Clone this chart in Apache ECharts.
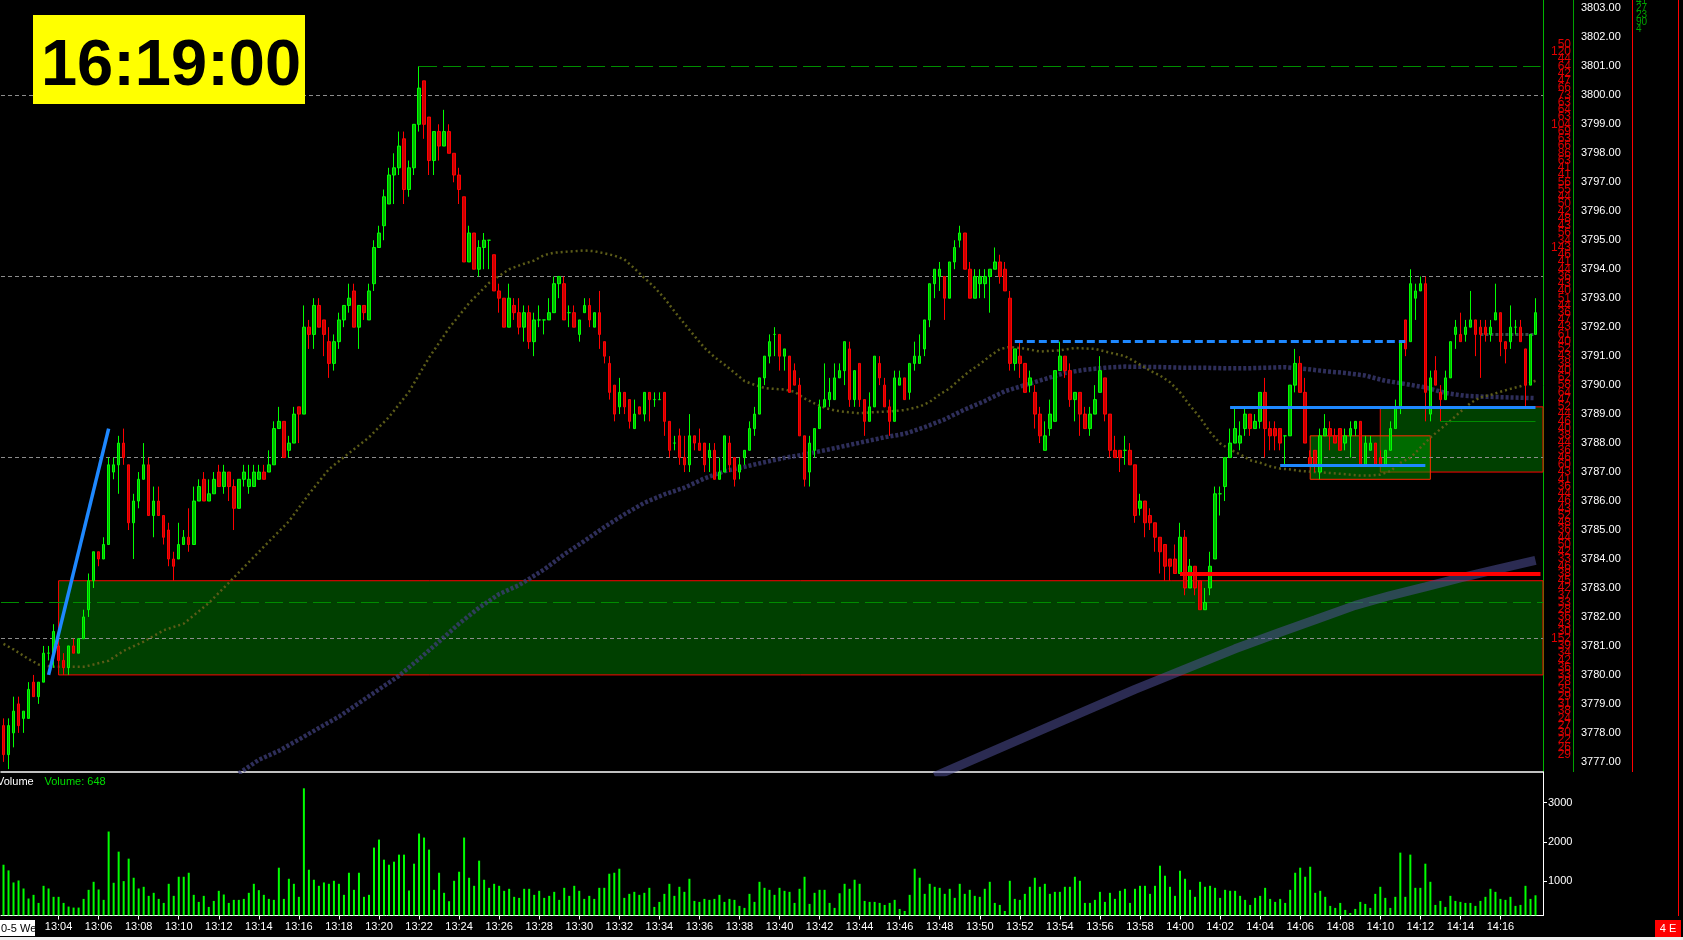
<!DOCTYPE html>
<html>
<head>
<meta charset="utf-8">
<script src="https://cdn.jsdelivr.net/npm/echarts@6.0.0/dist/echarts.min.js"></script>
<style>
html,body{margin:0;padding:0;background:#f0f0f0;}
#c{width:1683px;height:937px;background:#000;}
</style>
</head>
<body>
<div id="c"></div>
<script>
// ---------------- DATA ----------------
const firstBarTime = '13:01:15';
const barSeconds = 15;
const slotCount = 308;            // 307 bars + one empty slot at the right
const clockText = '16:19:00';
const dateStub = '0-5 We';
const cornerTag = '4 E';
const lastPrice = 3792.5;
const lastVolume = 648;
const timeLabelFirst = 11, timeLabelStep = 8, timeLabelLast = 299;
const priceTicks = [3777,3778,3779,3780,3781,3782,3783,3784,3785,3786,3787,3788,3789,3790,3791,3792,3793,3794,3795,3796,3797,3798,3799,3800,3801,3802,3803];
const volumeTicks = [1000,2000,3000];
const topRightNumbers = ['41','27','23','90','4'];

// [open, high, low, close] per 15-second bar
const ohlc = [
[3778.25,3778.5,3777,3777.25],[3777.25,3778.5,3776.75,3778.25],[3778,3779.25,3777.5,3778.75],[3779,3779.25,3778,3778.25],
[3778.5,3778.75,3778,3778.75],[3778.5,3779.75,3778.5,3779.5],[3779.75,3780,3779.25,3779.25],[3779.25,3779.75,3779,3779.75],
[3779.75,3781,3779.75,3780.75],[3780.75,3781,3780.5,3780.75],[3780.75,3781.75,3780.25,3781.5],[3781,3781.25,3780.25,3780.5],
[3780.5,3780.75,3780,3780.25],[3780.25,3781,3780,3781],[3781,3781.25,3780.75,3780.75],[3780.75,3781.25,3780.75,3781.25],
[3781.25,3782.25,3781.25,3782],[3782.25,3783.5,3782,3783.25],[3783.25,3784.25,3783,3784.25],[3784.25,3784.25,3783.75,3784],
[3784,3784.75,3784,3784.5],[3784.5,3787.5,3784.5,3787.25],[3787,3787.5,3786.75,3787.25],[3787.25,3788.25,3786.25,3788],
[3788,3788.5,3787.25,3787.5],[3787.25,3787.25,3785,3785.25],[3785.25,3786.25,3784,3786],[3786,3787,3785.75,3786.75],
[3786.75,3788,3786.75,3787.25],[3787.25,3787.5,3785.5,3785.5],[3785.5,3786.5,3784.75,3786],[3786,3786.5,3785.5,3785.5],
[3785.5,3785.5,3784.5,3784.75],[3785,3785.25,3783.75,3784],[3784,3784.25,3783.25,3783.75],[3784,3785.25,3784,3784.5],
[3784.5,3785,3784.5,3784.75],[3784.75,3785.75,3784.25,3784.5],[3784.5,3786.5,3784.5,3786],[3786,3786.75,3786,3786.5],
[3786.75,3787,3786,3786],[3786,3786.75,3786,3786.25],[3786.25,3787,3786.25,3786.75],[3787,3787.25,3786.5,3786.5],
[3786.5,3787.25,3786.25,3787],[3787,3787,3786,3786.5],[3786.5,3786.75,3785,3785.75],[3785.75,3786.75,3785.75,3786.75],
[3786.75,3787.25,3786.5,3787],[3786.5,3787.25,3786.25,3786.75],[3786.5,3787.25,3786.5,3787],[3786.75,3787.25,3786.75,3787],
[3787,3787.25,3786.75,3786.75],[3787,3787.75,3787,3787.25],[3787.25,3788.75,3787.25,3788.5],[3788.5,3789.25,3788.5,3788.75],
[3788.75,3788.75,3787.5,3787.5],[3787.75,3788.25,3787.5,3788],[3788,3789.25,3788,3789],[3789.25,3789.25,3788,3789],
[3789,3792.75,3789,3792],[3792,3792.25,3791.25,3791.75],[3791.75,3793,3791.25,3792.75],[3792.75,3793,3792,3792],
[3792.25,3792.25,3791,3791.75],[3791.5,3792,3790.25,3790.75],[3790.75,3791.75,3790.5,3791.5],[3791.5,3792.5,3791.25,3792.25],
[3792.25,3792.75,3792,3792.75],[3792.75,3793.5,3792.5,3793],[3793.25,3793.5,3792,3792],[3792,3792.75,3791.25,3792.75],
[3792.75,3792.75,3792.25,3792.5],[3792.25,3793.5,3792.25,3793.25],[3793.5,3795,3793.25,3794.75],[3794.75,3795.5,3794.75,3795.25],
[3795.5,3796.75,3795,3796.5],[3796.25,3797.5,3796.25,3797.25],[3797.25,3798,3796.25,3797.5],[3797.5,3798.75,3797.25,3798.25],
[3798.5,3798.75,3796.25,3796.75],[3796.75,3797.75,3796.5,3797.5],[3797.5,3799,3797.25,3799],[3799,3801,3798.75,3800.25],
[3800.5,3800.5,3798.5,3799],[3799.25,3799.25,3797.25,3797.75],[3797.75,3798.75,3797.25,3798.75],[3798.75,3799,3797.75,3798.25],
[3798.25,3799.5,3798.25,3798.75],[3798.75,3799,3798,3798],[3798,3798,3797,3797.25],[3797.25,3797.5,3796.25,3796.75],
[3796.5,3796.5,3794.25,3794.25],[3794.25,3795.5,3794.25,3795.25],[3795.25,3795.25,3794,3794],[3794,3795,3793.75,3794.75],
[3794.75,3795.25,3794,3795],[3795,3795,3794,3795],[3794.5,3794.5,3793.25,3793.25],[3793.25,3793.5,3792.5,3793],
[3793,3793,3792,3792],[3792,3793.5,3792,3793],[3792.75,3793,3792.25,3792.5],[3792.5,3793,3791.75,3792],
[3792,3792.75,3791.5,3792.5],[3792.5,3792.75,3791.25,3791.5],[3791.5,3792.5,3791,3792.25],[3792.25,3792.75,3792,3792.25],
[3792.25,3792.25,3791.75,3792.25],[3792.25,3793,3792.25,3792.5],[3792.5,3793.75,3792.5,3793.5],[3793.5,3793.75,3793,3793.75],
[3793.5,3793.75,3792.25,3792.25],[3792.5,3792.75,3792,3792.5],[3792.5,3792.75,3792,3792],[3791.75,3792.25,3791.5,3792.25],
[3792.5,3793,3792.5,3792.75],[3792.75,3793,3792,3792.25],[3792,3792.5,3792,3792.5],[3792.5,3793.25,3791.25,3791.75],
[3791.5,3791.5,3790.75,3791],[3790.75,3791,3789.5,3789.75],[3790,3790,3788.75,3789],[3789.25,3790.25,3789,3789.75],
[3789.75,3789.75,3789,3789.25],[3789.5,3789.5,3788.5,3788.75],[3788.5,3789.5,3788.5,3789],[3789.25,3789.25,3789,3789],
[3789,3789.75,3788.75,3789.75],[3789.75,3789.75,3788.75,3789.5],[3789.5,3789.75,3789.25,3789.5],[3789.5,3789.75,3789.5,3789.5],
[3789.75,3789.75,3788.25,3788.75],[3788.75,3788.75,3787.5,3787.75],[3788,3788.25,3787.75,3788],[3788.25,3788.5,3787.25,3787.5],
[3787.5,3788.25,3787,3787.25],[3787.25,3789,3787,3788.25],[3788.25,3788.25,3787.75,3788],[3788,3788.5,3787.75,3787.75],
[3788,3788,3787,3787.25],[3787.5,3788,3787,3787.75],[3787.75,3788,3786.75,3786.75],[3786.75,3787.5,3786.75,3787],
[3787,3788.25,3787,3788.25],[3788,3788.25,3787,3787.25],[3787.5,3787.5,3786.5,3786.75],[3787,3787.5,3786.75,3787.25],
[3787.5,3787.75,3787.25,3787.75],[3787.75,3788.75,3787.75,3788.5],[3788.5,3789.25,3788.25,3789],[3789,3790.25,3789,3790.25],
[3790.25,3791,3790,3791],[3791,3791.75,3790.75,3791.5],[3791.75,3792,3791,3791.75],[3791.75,3791.75,3790.5,3791],
[3791,3791.25,3790.5,3791.25],[3791,3791,3789.75,3789.75],[3790.5,3790.75,3790,3790],[3790,3790.25,3788.25,3788.25],
[3788.25,3788.25,3786.5,3786.75],[3787,3788.25,3786.5,3788],[3787.75,3788.5,3787.5,3788.5],[3788.5,3789.5,3788.5,3789.25],
[3789.25,3790.75,3789.25,3789.5],[3789.5,3790.25,3789.25,3789.75],[3789.5,3790.75,3789.5,3790.25],[3790.25,3790.75,3790.25,3790.5],
[3790.5,3791.5,3790,3791.5],[3791.25,3791.5,3789.25,3789.5],[3789.5,3790.5,3789.25,3790.5],[3790.75,3790.75,3789.25,3789.5],
[3789.5,3789.5,3788.25,3788.75],[3788.75,3789.75,3788.75,3789.25],[3789.25,3791,3789.25,3791],[3790.75,3791,3790,3790.25],
[3790,3790.25,3789.25,3789.25],[3789.25,3789.5,3788.25,3788.75],[3788.75,3790.5,3788.75,3790.25],[3790,3790.5,3790,3790.25],
[3790.25,3790.25,3789.5,3789.5],[3789.75,3790.75,3789.5,3790.75],[3790.75,3791.5,3790.5,3791],[3790.75,3791.75,3790.75,3791],
[3791.25,3792.25,3791,3792.25],[3792.25,3793.5,3792,3793.5],[3793.5,3794,3793,3794],[3793.75,3794.25,3793.25,3794],
[3793.75,3793.75,3792.25,3793],[3793,3794.25,3793,3794.25],[3794.25,3795,3794,3794.75],[3795,3795.5,3794.75,3795.25],
[3795.25,3795.25,3794,3794],[3794,3794.25,3793,3793],[3793,3794,3793,3793.75],[3793.5,3794,3793,3793.75],
[3793.5,3794,3793,3793.75],[3793.75,3794,3792.5,3794],[3794,3794.75,3794,3794.25],[3794.25,3794.5,3793.5,3793.75],
[3794,3794.25,3793.25,3793.25],[3793,3793.25,3790.5,3790.75],[3790.75,3791.25,3790.5,3791.25],[3791,3791.5,3790.25,3790.75],
[3790.75,3790.75,3789.75,3789.75],[3790,3790.5,3789.75,3790.25],[3789.75,3790,3788.5,3789],[3789,3789.25,3788,3788.25],
[3787.75,3788.75,3787.75,3788.25],[3788.5,3789.5,3788.25,3789],[3788.75,3790.5,3788.75,3790.5],[3790.5,3791.5,3790.5,3791],
[3791,3791,3790.25,3790.5],[3790.5,3790.75,3789.25,3789.5],[3789.5,3789.75,3788.75,3789.75],[3789.75,3789.75,3788.25,3789],
[3789,3789.25,3788.5,3788.5],[3788.5,3789.25,3788.25,3789],[3789,3790,3789,3789.5],[3789.75,3791,3789.75,3790.5],
[3790.25,3790.25,3788.75,3789],[3789,3789,3787.5,3787.75],[3787.75,3788.25,3787.5,3787.5],[3787.75,3787.75,3787,3787.5],
[3787.75,3788.25,3787.25,3787.75],[3787.75,3788,3787.25,3787.25],[3787.25,3787.25,3785.25,3785.5],[3785.75,3786.25,3785.5,3786],
[3786,3786,3784.75,3785.25],[3785.5,3785.75,3785,3785.25],[3785.25,3785.25,3784.25,3784.75],[3784.75,3784.75,3783.5,3784.25],
[3784.5,3784.5,3783.25,3783.75],[3784,3784,3783.25,3783.75],[3784,3784.5,3783.5,3783.5],[3783.5,3785.25,3783.5,3784.75],
[3784.75,3785,3782.75,3783],[3783,3784,3783,3783.75],[3783.75,3783.75,3782.75,3783],[3783.25,3783.25,3782.25,3782.25],
[3782.25,3783,3782.25,3782.5],[3783,3784.25,3782.75,3783.75],[3784,3786.5,3784,3786.25],[3786.25,3786.5,3785.5,3786.25],
[3786.5,3787.5,3786,3787.5],[3787.5,3788.5,3787.5,3788],[3788,3789.25,3788,3788.5],[3788,3788.75,3787.75,3788.25],
[3788.5,3789.25,3788.25,3789],[3789,3789,3788.25,3788.5],[3788.5,3789,3788.5,3788.75],[3788.75,3789.75,3788.5,3789.75],
[3789.75,3790.25,3787.5,3788.5],[3788.5,3788.75,3787.75,3788.25],[3788.5,3788.75,3787.75,3788.25],[3788.5,3788.5,3787.75,3788],
[3788.25,3788.25,3787.25,3788.25],[3788.25,3790,3788.25,3790],[3790,3791.25,3789.75,3790.75],[3790.75,3791,3789.75,3789.75],
[3789.75,3790.25,3788,3788],[3787.5,3787.75,3787.25,3787.25],[3787.75,3787.75,3787,3787.25],[3787,3788.5,3786.75,3788.25],
[3788.25,3789,3788.25,3788.5],[3788.5,3788.75,3787.75,3788.25],[3788.25,3788.5,3788,3788],[3788.5,3788.5,3787.75,3787.75],
[3788,3788.5,3787.75,3788.25],[3788.25,3788.75,3787.5,3788.5],[3788.5,3788.75,3788.25,3788.75],[3788.75,3788.75,3787.25,3787.25],
[3787.25,3788.25,3787.25,3788],[3787.75,3788.25,3787.75,3788],[3788,3788,3787.25,3787.25],[3787.5,3787.75,3787.25,3787.25],
[3787.25,3787.75,3787.25,3787.75],[3787.75,3788.75,3787.75,3788.5],[3788.5,3789.5,3788.5,3789.25],[3789.25,3791.5,3789,3791.5],
[3792.25,3792.25,3791,3791.25],[3791.5,3794,3791.5,3793.5],[3793,3793.5,3792.25,3793.25],[3793.25,3793.75,3793.25,3793.5],
[3793.5,3793.75,3788.75,3789.75],[3789,3790.5,3788.75,3790.25],[3790.5,3791,3790,3790],[3789.75,3790,3788.75,3789.5],
[3789.5,3790.5,3789.5,3790.25],[3790.25,3791.5,3790.25,3791.5],[3791.75,3792.25,3791.25,3792],[3791.75,3792.5,3791.5,3791.5],
[3791.75,3792.25,3791.5,3792],[3792,3793.25,3792,3792.25],[3792.25,3792.25,3791,3791.75],[3792,3792.25,3790.25,3791.75],
[3792,3792.25,3791.5,3791.75],[3791.75,3792.25,3791.5,3792],[3792.25,3793.5,3792.25,3792.5],[3792.5,3792.5,3791,3791.5],
[3791.5,3791.5,3790.75,3791.25],[3791.5,3792.75,3791.25,3792],[3792,3792.25,3791.75,3792],[3792,3792.25,3791.5,3791.5],
[3791.25,3791.25,3789.25,3790],[3790,3791.75,3790,3791.75],[3791.75,3793,3791.75,3792.5]
];

const volumes = [
1425,1281,974,1025,821,566,660,455,889,821,
609,609,455,362,336,336,557,787,991,796,
532,2268,966,1757,1008,1579,1094,821,864,634,
711,557,455,940,634,1119,1119,1221,660,481,
634,353,506,762,668,455,532,532,557,711,
940,779,660,557,532,1349,557,1068,940,609,
3366,1298,1043,889,974,940,1017,940,660,1221,
787,1221,609,660,1860,2064,1553,1425,1502,1681,
1681,770,1451,2217,2115,1809,787,1221,711,498,
1017,1247,2115,1094,889,1528,1043,838,940,889,
762,813,609,583,813,813,660,762,583,634,
736,532,838,634,889,762,557,634,557,838,
838,1196,1221,1323,583,685,736,660,711,838,
353,481,685,940,634,864,736,1068,506,481,
557,532,557,660,481,557,532,379,328,685,
481,991,838,787,660,838,762,736,455,813,
1119,430,711,787,787,455,328,700,
940,813,1043,940,506,481,481,455,404,455,
532,302,251,660,1323,1094,685,940,864,838,
685,813,583,940,685,787,634,609,813,991,
455,404,251,1017,557,532,685,864,1094,864,
940,685,736,736,864,864,1119,1017,455,455,
532,736,481,711,557,762,813,455,813,889,
889,685,889,1400,1145,864,634,1272,1068,787,
609,991,864,889,838,583,787,762,762,634,
532,404,583,634,838,557,481,557,455,787,
1221,1349,1119,1374,711,762,609,379,328,455,
277,200,302,481,430,328,685,864,583,328,
609,1732,609,1681,838,838,1451,991,404,506,
353,634,506,481,455,455,379,506,609,813,
736,557,532,609,379,404,889,557,648
];

// moving-average style overlays: [bar index, price]
const maSlow = [[0,3781.07],[2,3780.88],[5,3780.55],[7,3780.36],[10,3780.28],[16,3780.28],[18,3780.36],[21,3780.49],[24,3780.83],[28,3781.15],[32,3781.54],[36,3781.77],[41,3782.48],[45,3783.18],[49,3783.89],[53,3784.6],[57,3785.3],[61,3786.24],[65,3787.1],[69,3787.65],[73,3788.2],[77,3788.9],[81,3789.77],[85,3790.95],[89,3791.97],[93,3792.83],[97,3793.53],[101,3794.0],[104,3794.19],[106,3794.3],[108,3794.49],[110,3794.57],[112,3794.6],[114,3794.62],[116,3794.65],[118,3794.62],[120,3794.55],[122,3794.47],[124,3794.34],[126,3794.03],[128,3793.7],[130,3793.38],[132,3793.0],[134,3792.55],[136,3792.12],[138,3791.7],[140,3791.29],[142,3790.97],[144,3790.71],[146,3790.43],[148,3790.14],[150,3790.01],[152,3789.9],[154,3789.87],[156,3789.85],[158,3789.77],[160,3789.54],[162,3789.37],[164,3789.22],[166,3789.13],[168,3789.08],[171,3789.03],[174,3789.07],[177,3789.09],[180,3789.14],[183,3789.26],[185,3789.42],[187,3789.68],[189,3789.89],[191,3790.2],[193,3790.49],[195,3790.72],[197,3791.0],[199,3791.24],[201,3791.32],[204,3791.26],[207,3791.16],[211,3791.2],[214,3791.28],[218,3791.25],[221,3791.12],[224,3791.0],[226,3790.81],[229,3790.5],[231,3790.33],[233,3790.1],[235,3789.75],[237,3789.29],[239,3788.88],[241,3788.38],[243,3787.99],[245,3787.78],[247,3787.61],[249,3787.41],[251,3787.32],[253,3787.2],[255,3787.12],[257,3787.09],[259,3787.04],[263,3786.99],[267,3786.94],[271,3786.88],[273,3786.88],[275,3786.91],[277,3787.03],[279,3787.32],[281,3787.49],[283,3787.84],[285,3788.19],[287,3788.48],[289,3788.77],[291,3789.08],[293,3789.38],[295,3789.58],[297,3789.66],[299,3789.77],[301,3789.87],[303,3789.96],[306,3790.15]];
const maMid = [[47,3776.6],[51,3777.07],[55,3777.38],[59,3777.77],[63,3778.17],[67,3778.56],[71,3779.03],[75,3779.5],[79,3779.97],[83,3780.55],[87,3781.15],[91,3781.77],[95,3782.32],[99,3782.79],[103,3783.1],[108,3783.64],[112,3784.16],[116,3784.62],[120,3785.1],[124,3785.54],[128,3785.94],[132,3786.23],[136,3786.46],[140,3786.78],[144,3787.03],[148,3787.18],[152,3787.34],[156,3787.49],[160,3787.61],[164,3787.75],[168,3787.9],[172,3788.05],[176,3788.2],[180,3788.32],[184,3788.55],[188,3788.82],[192,3789.16],[196,3789.45],[200,3789.79],[204,3790.0],[208,3790.21],[212,3790.42],[216,3790.53],[220,3790.6],[224,3790.64],[228,3790.63],[232,3790.62],[236,3790.6],[240,3790.6],[244,3790.58],[248,3790.58],[252,3790.6],[256,3790.62],[260,3790.56],[264,3790.48],[268,3790.42],[272,3790.33],[276,3790.15],[280,3790.04],[284,3789.92],[288,3789.73],[292,3789.63],[296,3789.6],[300,3789.58],[306,3789.55]];
const maLong = [[186,3776.5],[200,3777.55],[214,3778.6],[226,3779.5],[236,3780.2],[246,3780.9],[255,3781.47],[262,3781.9],[270,3782.4],[277,3782.74],[284,3783.04],[291,3783.35],[298,3783.63],[306,3783.95]];
const shortLevel = [[295,3791.75],[306,3791.75]];

// price levels / zones
const grayLevels = [3800, 3793.75, 3787.5, 3781.25];
const demandZone = {from: 11, top: 3783.25, bottom: 3780};
const upperZone = {from: 275, top: 3789.25, bottom: 3787};
const boxZone = {from: 261, to: 285, top: 3788.25, bottom: 3786.75};
const midDashLevel = 3782.5;
const highLevel = {from: 83, price: 3801};
const trendLine = [[9, 3780], [21, 3788.5]];
const blueDashed = {from: 202, to: 280, price: 3791.5};
const blueUpper = {from: 245, to: 306, price: 3789.25};
const blueLower = {from: 255, to: 284, price: 3787.25};
const redLevel = {from: 235, to: 307, price: 3783.5};
const greenThin = {from: 287, to: 306, price: 3788.75};

// volume-at-price column (from 3802.00 down in 0.25 steps)
const profileTop = 3802;
const profileValues = [
39,50,120,44, 64,42,47,66, 73,
63,64,63,104, 69,63,66,86, 63,41,41,56, 55,44,50,42, 48,43,56,34,
143,46,41,44, 36,43,40,51, 44,36,47,43, 61,40,52,43, 38,40,62,58,
64,47,52,44, 46,40,38,44, 36,46,60,43, 41,36,44,46, 43,52,48,36,
44,50,42,33, 46,38,45,42, 37,33,28,36, 43,30,152,39, 34,42,36,33,
28,35,29,31, 38,24,27,30, 22,26,29,20
];

// ---------------- BUILD ----------------
const FONT = '"Liberation Sans", Arial, sans-serif';
function pad(n){return (n<10?'0':'')+n;}
const [h0,m0,s0] = firstBarTime.split(':').map(Number);
const categories = [];
for (let i = 0; i < slotCount; i++) {
  const t = h0*3600 + m0*60 + s0 + i*barSeconds;
  categories.push(pad(Math.floor(t/3600)) + ':' + pad(Math.floor(t/60)%60) + ':' + pad(t%60));
}
const candleData = ohlc.map(r => [r[0], r[3], r[2], r[1]]);
const closes = ohlc.map(r => r[3]);
const profilePrices = profileValues.map((v, k) => profileTop - k*0.25);
const profileMap = {};
profilePrices.forEach((p, k) => { profileMap[p.toFixed(2)] = profileValues[k]; });

const pMin = 3776.66, pMax = 3803.29;
const labelInterval = (idx) => idx >= timeLabelFirst && idx <= timeLabelLast && (idx - timeLabelFirst) % timeLabelStep === 0;
const BLUE = '#1e88ff';

function seg(a, b, p, style){ return [{coord:[a, p], lineStyle: style}, {coord:[b, p]}]; }

const chart = echarts.init(document.getElementById('c'), null, {renderer:'canvas'});
const option = {
  backgroundColor: '#000',
  animation: false,
  textStyle: {fontFamily: FONT},
  grid: [
    {left: 1, top: 0, width: 1542, height: 771.7},
    {left: 1, top: 772, width: 1542, height: 143.5}
  ],
  xAxis: [
    {type:'category', gridIndex:0, data: categories, boundaryGap: true,
     axisLine:{show:true, lineStyle:{color:'#ffffff', width:1.5}}, axisTick:{show:false}, axisLabel:{show:false}, splitLine:{show:false}},
    {type:'category', gridIndex:1, data: categories, boundaryGap: true,
     axisLine:{show:true, lineStyle:{color:'#ffffff', width:1}},
     axisTick:{show:true, interval: labelInterval, alignWithLabel:true, length:4, lineStyle:{color:'#ffffff'}},
     axisLabel:{interval: labelInterval, formatter: v => v.slice(0,5), color:'#ffffff', fontSize:11, margin:6, fontFamily: FONT},
     splitLine:{show:false}}
  ],
  yAxis: [
    {type:'value', gridIndex:0, position:'right', min:pMin, max:pMax,
     axisLine:{show:true, lineStyle:{color:'#00b400', width:1}}, axisTick:{show:false}, splitLine:{show:false},
     axisLabel:{customValues: priceTicks, formatter: v => Number(v).toFixed(2), color:'#ffffff', fontSize:11, margin:38, align:'left', fontFamily: FONT}},
    {type:'value', gridIndex:0, position:'right', min:pMin, max:pMax,
     axisLine:{show:false}, axisTick:{show:false}, splitLine:{show:false},
     axisLabel:{customValues: profilePrices, formatter: v => String(profileMap[Number(v).toFixed(2)]), color:'#e00000', fontSize:12, margin:28, align:'right', fontFamily: FONT}},
    {type:'value', gridIndex:1, position:'right', min:135, max:3780,
     axisLine:{show:true, lineStyle:{color:'#ffffff', width:1}},
     axisTick:{show:true, customValues: volumeTicks, length:4, lineStyle:{color:'#ffffff'}},
     splitLine:{show:false},
     axisLabel:{customValues: volumeTicks, formatter: v => String(Math.round(v)), color:'#ffffff', fontSize:11, margin:5, align:'left', fontFamily: FONT}}
  ],
  series: [
    {name:'zones', type:'line', xAxisIndex:0, yAxisIndex:0, data: closes, showSymbol:false, silent:true, z:1,
     lineStyle:{opacity:0},
     markArea:{silent:true, z:1, label:{show:false}, data:[
       [{xAxis: demandZone.from, yAxis: demandZone.top, itemStyle:{color:'#004000', borderColor:'#ff0000', borderWidth:1}}, {yAxis: demandZone.bottom}],
       [{xAxis: upperZone.from, yAxis: upperZone.top, itemStyle:{color:'#004000', borderColor:'#ff0000', borderWidth:1}}, {yAxis: upperZone.bottom}],
       [{xAxis: boxZone.from, yAxis: boxZone.top, itemStyle:{color:'rgba(0,150,0,0.5)', borderColor:'#ff2a00', borderWidth:1}}, {xAxis: boxZone.to, yAxis: boxZone.bottom}]
     ]},
     markLine:{silent:true, symbol:'none', z:1, label:{show:false}, data: [
       ...grayLevels.map(p => ({yAxis: p, lineStyle:{color:'#8c8c8c', type:[4,3], width:1}})),
       {yAxis: midDashLevel, lineStyle:{color:'#008c00', type:[18,6], width:1}},
       seg(highLevel.from, slotCount-1, highLevel.price, {color:'#008c00', type:[18,6], width:1})
     ]}
    },
    {name:'maLong', type:'line', xAxisIndex:0, yAxisIndex:0, data: maLong, showSymbol:false, silent:true, z:2,
     lineStyle:{width:9, color:'rgba(78,78,150,0.55)', cap:'butt'}},
    {name:'maMid', type:'line', xAxisIndex:0, yAxisIndex:0, data: maMid, showSymbol:false, silent:true, z:2,
     lineStyle:{width:4.5, type:[3,2], color:'rgba(62,62,120,0.75)'}},
    {name:'maSlow', type:'line', xAxisIndex:0, yAxisIndex:0, data: maSlow, showSymbol:false, silent:true, z:2,
     lineStyle:{width:2.5, type:[2,3], color:'#5c5c18'}},
    {name:'shortLevel', type:'line', xAxisIndex:0, yAxisIndex:0, data: shortLevel, showSymbol:false, silent:true, z:2,
     lineStyle:{width:3, type:[3,2], color:'#3a4c4c'}},
    {name:'price', type:'candlestick', xAxisIndex:0, yAxisIndex:0, data: candleData, barWidth:3, z:3,
     itemStyle:{color:'#00b400', color0:'#c80000', borderColor:'#00ff00', borderColor0:'#ff0000', borderWidth:1},
     markLine:{silent:true, symbol:'none', data:[{yAxis:lastPrice, lineStyle:{opacity:0}}],
       label:{show:true, position:'end', distance:37, formatter: lastPrice.toFixed(2), color:'#000', backgroundColor:'#ffffff', padding:[2,2,1,2], fontSize:11, fontFamily: FONT}}
    },
    {name:'annotations', type:'line', xAxisIndex:0, yAxisIndex:0, data: closes, showSymbol:false, silent:true, z:4,
     lineStyle:{opacity:0},
     markLine:{silent:true, symbol:'none', z:6, label:{show:false}, data:[
       [{coord: trendLine[0], lineStyle:{color:BLUE, width:3.5, type:'solid'}}, {coord: trendLine[1]}],
       seg(blueDashed.from, blueDashed.to, blueDashed.price, {color:BLUE, width:3, type:[8,4]}),
       seg(blueUpper.from, blueUpper.to, blueUpper.price, {color:BLUE, width:3, type:'solid'}),
       seg(blueLower.from, blueLower.to, blueLower.price, {color:BLUE, width:3, type:'solid'}),
       seg(redLevel.from, redLevel.to, redLevel.price, {color:'#ff0000', width:4, type:'solid'}),
       seg(greenThin.from, greenThin.to, greenThin.price, {color:'#008c00', width:1, type:'solid'})
     ]}
    },
    {name:'Volume', type:'bar', xAxisIndex:1, yAxisIndex:2, data: volumes, barWidth:2, z:2,
     itemStyle:{color:'#00ff00'}}
  ],
  graphic: [
    {type:'rect', z:100, shape:{x:33, y:15, width:272, height:89}, style:{fill:'#ffff00'}},
    {type:'text', z:101, style:{text: clockText, x:171, y:67, fill:'#000', font:'bold 65px '+FONT, textAlign:'center', textVerticalAlign:'middle', align:'center', verticalAlign:'middle'}},
    {type:'text', z:101, style:{text:'Volume', x:-3, y:782, fill:'#ffffff', font:'11px '+FONT, textVerticalAlign:'middle', verticalAlign:'middle'}},
    {type:'text', z:101, style:{text:'Volume: ' + lastVolume, x:44.5, y:782, fill:'#00dd00', font:'11px '+FONT, textVerticalAlign:'middle', verticalAlign:'middle'}},
    {type:'rect', z:100, shape:{x:0, y:920, width:35, height:16}, style:{fill:'#ffffff'}},
    {type:'text', z:101, style:{text: dateStub, x:1, y:928.5, fill:'#000', font:'11px '+FONT, textVerticalAlign:'middle', verticalAlign:'middle'}},
    {type:'rect', z:100, shape:{x:1655, y:920, width:26, height:17}, style:{fill:'#ff0000'}},
    {type:'text', z:101, style:{text: cornerTag, x:1668, y:928.5, fill:'#ffffff', font:'11px '+FONT, textAlign:'center', textVerticalAlign:'middle', align:'center', verticalAlign:'middle'}},
    {type:'line', z:100, shape:{x1:1573.5, y1:0, x2:1573.5, y2:772}, style:{stroke:'#00a000', lineWidth:1}},
    {type:'line', z:100, shape:{x1:1632.5, y1:0, x2:1632.5, y2:772}, style:{stroke:'#ff0000', lineWidth:1}},
    {type:'line', z:100, shape:{x1:1678.5, y1:0, x2:1678.5, y2:916}, style:{stroke:'#ff0000', lineWidth:1}},
    {type:'text', z:101, style:{text: topRightNumbers.join('\n'), x:1636, y:-2, fill:'#00a000', font:'10px '+FONT, lineHeight:7}}
  ]
};
chart.setOption(option);
</script>
</body>
</html>
